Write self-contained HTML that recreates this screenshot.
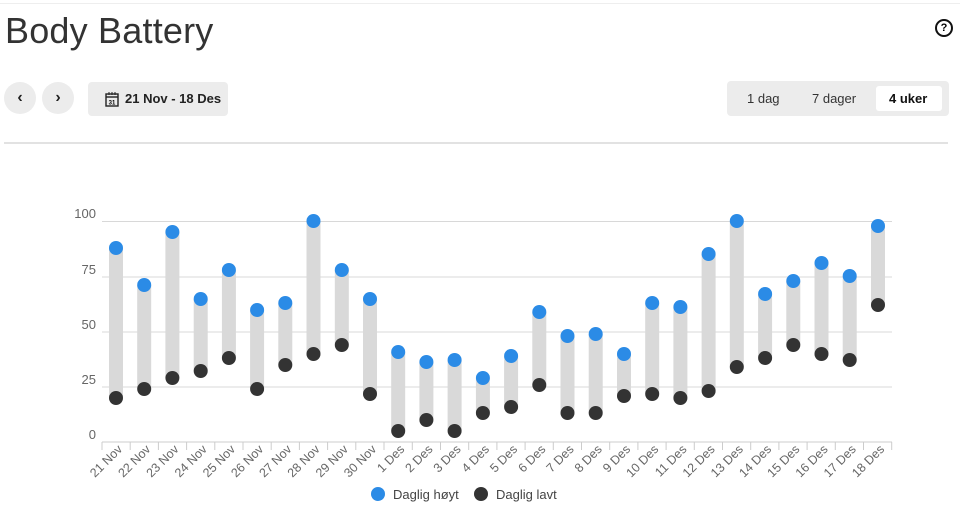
<!DOCTYPE html>
<html><head><meta charset="utf-8"><style>
body{margin:0;width:960px;height:514px;background:#fff;font-family:"Liberation Sans",sans-serif;position:relative;overflow:hidden}
.top{position:absolute;left:0;top:3px;width:960px;height:1px;background:#eee}
h1{position:absolute;left:5px;top:10px;margin:0;font-weight:normal;font-size:36px;color:#333;letter-spacing:0.2px}
.help{position:absolute;left:935px;top:19px;width:14px;height:14px;border:2px solid #111;border-radius:50%;font-size:11px;font-weight:bold;text-align:center;line-height:14px}
.circ{position:absolute;top:82px;width:32px;height:32px;border-radius:50%;background:#ececec;text-align:center;line-height:32px;font-size:16px;font-weight:bold;color:#222}
.date{position:absolute;left:88px;top:82px;width:140px;height:34px;border-radius:4px;background:#ececec;font-size:13px;font-weight:bold;line-height:34px;color:#222}
.seg{position:absolute;left:727px;top:81px;width:222px;height:35px;border-radius:4px;background:#ececec;font-size:13px;color:#333}
.seg span{position:absolute;top:0;line-height:35px}
.sel{position:absolute;left:149px;top:5px;width:66px;height:25px;background:#fff;border-radius:3px}
.hr{position:absolute;left:4px;top:142px;width:944px;height:2px;background:#e2e2e2}
</style></head><body>
<div class="top"></div>
<h1>Body Battery</h1>
<div class="help">?</div>
<div class="circ" style="left:4px">‹</div>
<div class="circ" style="left:42px">›</div>
<div class="date"><svg style="position:absolute;left:17px;top:9px" width="14" height="16" viewBox="0 0 14 16"><rect x="1" y="3" width="12" height="12" fill="none" stroke="#222" stroke-width="1.4"/><line x1="1" y1="6" x2="13" y2="6" stroke="#222" stroke-width="1.4"/><line x1="4" y1="1" x2="4" y2="4" stroke="#222"/><line x1="7" y1="1" x2="7" y2="4" stroke="#222"/><line x1="10" y1="1" x2="10" y2="4" stroke="#222"/><text x="7" y="13.5" font-size="6" text-anchor="middle" font-family="Liberation Sans">31</text></svg><span style="position:absolute;left:37px">21 Nov - 18 Des</span></div>
<div class="seg"><div class="sel"></div><span style="left:20px">1 dag</span><span style="left:85px">7 dager</span><span style="left:162px;font-weight:bold;color:#111">4 uker</span></div>
<div class="hr"></div>
<svg style="position:absolute;left:0;top:0" width="960" height="514">
<g stroke="#d8d8d8" stroke-width="1">
<line x1="102" y1="221.5" x2="892" y2="221.5"/><line x1="102" y1="277" x2="892" y2="277"/><line x1="102" y1="332" x2="892" y2="332"/><line x1="102" y1="387" x2="892" y2="387"/>
<line x1="102" y1="442" x2="892" y2="442" stroke="#ccc"/>
</g>
<g fill="#666" font-size="13" text-anchor="end" font-family="Liberation Sans">
<text x="96" y="218">100</text><text x="96" y="274">75</text><text x="96" y="329">50</text><text x="96" y="384">25</text><text x="96" y="439">0</text>
</g>
<g stroke="#ccc">
<path d="M102 442v8M130.2 442v8M158.4 442v8M186.6 442v8M214.8 442v8M243 442v8M271.2 442v8M299.4 442v8M327.6 442v8M355.8 442v8M384 442v8M412.3 442v8M440.5 442v8M468.7 442v8M496.9 442v8M525.1 442v8M553.3 442v8M581.5 442v8M609.7 442v8M637.9 442v8M666.1 442v8M694.3 442v8M722.5 442v8M750.7 442v8M778.9 442v8M807.1 442v8M835.3 442v8M863.5 442v8M891.7 442v8"/>
</g>
<g fill="#d9d9d9">
<rect x="109" y="248" width="14" height="150"/><rect x="137.2" y="285" width="14" height="104"/><rect x="165.4" y="232" width="14" height="146"/><rect x="193.7" y="299" width="14" height="72"/><rect x="221.9" y="270" width="14" height="88"/><rect x="250.1" y="310" width="14" height="79"/><rect x="278.3" y="303" width="14" height="62"/><rect x="306.5" y="221" width="14" height="133"/><rect x="334.8" y="270" width="14" height="75"/><rect x="363" y="299" width="14" height="95"/><rect x="391.2" y="352" width="14" height="79"/><rect x="419.4" y="362" width="14" height="58"/><rect x="447.6" y="360" width="14" height="71"/><rect x="475.9" y="378" width="14" height="35"/><rect x="504.1" y="356" width="14" height="51"/><rect x="532.3" y="312" width="14" height="73"/><rect x="560.5" y="336" width="14" height="77"/><rect x="588.7" y="334" width="14" height="79"/><rect x="617" y="354" width="14" height="42"/><rect x="645.2" y="303" width="14" height="91"/><rect x="673.4" y="307" width="14" height="91"/><rect x="701.6" y="254" width="14" height="137"/><rect x="729.8" y="221" width="14" height="146"/><rect x="758.1" y="294" width="14" height="64"/><rect x="786.3" y="281" width="14" height="64"/><rect x="814.5" y="263" width="14" height="91"/><rect x="842.7" y="276" width="14" height="84"/><rect x="871" y="226" width="14" height="79"/>
</g>
<g fill="#2b8be6">
<circle cx="116" cy="248" r="7"/><circle cx="144.2" cy="285" r="7"/><circle cx="172.4" cy="232" r="7"/><circle cx="200.7" cy="299" r="7"/><circle cx="228.9" cy="270" r="7"/><circle cx="257.1" cy="310" r="7"/><circle cx="285.3" cy="303" r="7"/><circle cx="313.5" cy="221" r="7"/><circle cx="341.8" cy="270" r="7"/><circle cx="370" cy="299" r="7"/><circle cx="398.2" cy="352" r="7"/><circle cx="426.4" cy="362" r="7"/><circle cx="454.6" cy="360" r="7"/><circle cx="482.9" cy="378" r="7"/><circle cx="511.1" cy="356" r="7"/><circle cx="539.3" cy="312" r="7"/><circle cx="567.5" cy="336" r="7"/><circle cx="595.7" cy="334" r="7"/><circle cx="624" cy="354" r="7"/><circle cx="652.2" cy="303" r="7"/><circle cx="680.4" cy="307" r="7"/><circle cx="708.6" cy="254" r="7"/><circle cx="736.8" cy="221" r="7"/><circle cx="765.1" cy="294" r="7"/><circle cx="793.3" cy="281" r="7"/><circle cx="821.5" cy="263" r="7"/><circle cx="849.7" cy="276" r="7"/><circle cx="878" cy="226" r="7"/>
</g>
<g fill="#333">
<circle cx="116" cy="398" r="7"/><circle cx="144.2" cy="389" r="7"/><circle cx="172.4" cy="378" r="7"/><circle cx="200.7" cy="371" r="7"/><circle cx="228.9" cy="358" r="7"/><circle cx="257.1" cy="389" r="7"/><circle cx="285.3" cy="365" r="7"/><circle cx="313.5" cy="354" r="7"/><circle cx="341.8" cy="345" r="7"/><circle cx="370" cy="394" r="7"/><circle cx="398.2" cy="431" r="7"/><circle cx="426.4" cy="420" r="7"/><circle cx="454.6" cy="431" r="7"/><circle cx="482.9" cy="413" r="7"/><circle cx="511.1" cy="407" r="7"/><circle cx="539.3" cy="385" r="7"/><circle cx="567.5" cy="413" r="7"/><circle cx="595.7" cy="413" r="7"/><circle cx="624" cy="396" r="7"/><circle cx="652.2" cy="394" r="7"/><circle cx="680.4" cy="398" r="7"/><circle cx="708.6" cy="391" r="7"/><circle cx="736.8" cy="367" r="7"/><circle cx="765.1" cy="358" r="7"/><circle cx="793.3" cy="345" r="7"/><circle cx="821.5" cy="354" r="7"/><circle cx="849.7" cy="360" r="7"/><circle cx="878" cy="305" r="7"/>
</g>
<g fill="#666" font-size="12.5" text-anchor="end" font-family="Liberation Sans">
<text transform="translate(123,450) rotate(-45)">21 Nov</text><text transform="translate(151.2,450) rotate(-45)">22 Nov</text><text transform="translate(179.4,450) rotate(-45)">23 Nov</text><text transform="translate(207.7,450) rotate(-45)">24 Nov</text><text transform="translate(235.9,450) rotate(-45)">25 Nov</text><text transform="translate(264.1,450) rotate(-45)">26 Nov</text><text transform="translate(292.3,450) rotate(-45)">27 Nov</text><text transform="translate(320.5,450) rotate(-45)">28 Nov</text><text transform="translate(348.8,450) rotate(-45)">29 Nov</text><text transform="translate(377,450) rotate(-45)">30 Nov</text><text transform="translate(405.2,450) rotate(-45)">1 Des</text><text transform="translate(433.4,450) rotate(-45)">2 Des</text><text transform="translate(461.6,450) rotate(-45)">3 Des</text><text transform="translate(489.9,450) rotate(-45)">4 Des</text><text transform="translate(518.1,450) rotate(-45)">5 Des</text><text transform="translate(546.3,450) rotate(-45)">6 Des</text><text transform="translate(574.5,450) rotate(-45)">7 Des</text><text transform="translate(602.7,450) rotate(-45)">8 Des</text><text transform="translate(631,450) rotate(-45)">9 Des</text><text transform="translate(659.2,450) rotate(-45)">10 Des</text><text transform="translate(687.4,450) rotate(-45)">11 Des</text><text transform="translate(715.6,450) rotate(-45)">12 Des</text><text transform="translate(743.8,450) rotate(-45)">13 Des</text><text transform="translate(772.1,450) rotate(-45)">14 Des</text><text transform="translate(800.3,450) rotate(-45)">15 Des</text><text transform="translate(828.5,450) rotate(-45)">16 Des</text><text transform="translate(856.7,450) rotate(-45)">17 Des</text><text transform="translate(885,450) rotate(-45)">18 Des</text>
</g>
<circle cx="378" cy="494" r="7" fill="#2b8be6"/><text x="393" y="499" font-size="13" fill="#444" font-family="Liberation Sans">Daglig høyt</text>
<circle cx="481" cy="494" r="7" fill="#333"/><text x="496" y="499" font-size="13" fill="#444" font-family="Liberation Sans">Daglig lavt</text>
</svg>
</body></html>
